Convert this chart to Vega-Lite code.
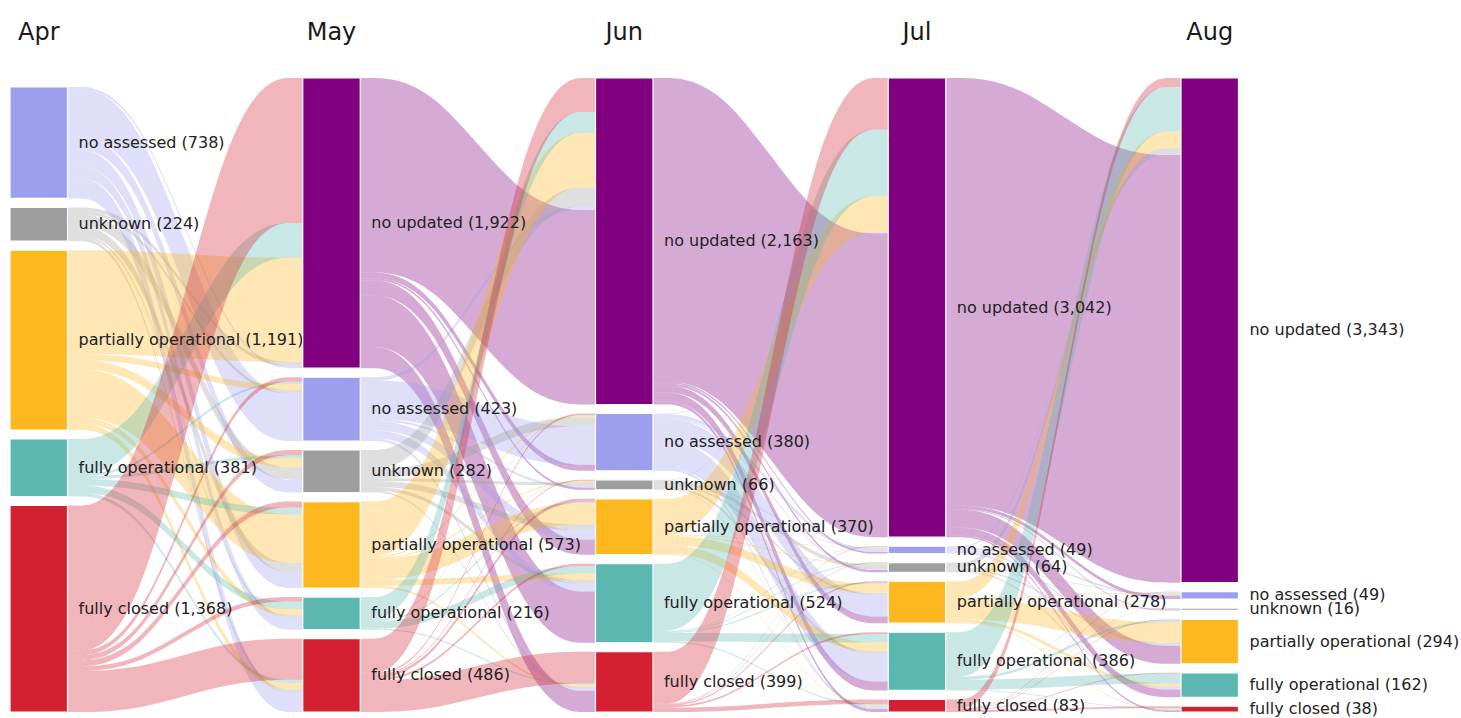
{
  "$schema": "https://vega.github.io/schema/vega-lite/v6.json",
  "width": 1461,
  "height": 718,
  "autosize": {"type": "none"},
  "padding": 0,
  "background": "white",
  "config": {"view": {"stroke": null}},
  "datasets": {
    "months": [{"month": "Apr"}, {"month": "May"}, {"month": "Jun"}, {"month": "Jul"}, {"month": "Aug"}],
    "nodes": [
      {"month": "Apr", "status": "no assessed", "count": 738},
      {"month": "Apr", "status": "unknown", "count": 224},
      {"month": "Apr", "status": "partially operational", "count": 1191},
      {"month": "Apr", "status": "fully operational", "count": 381},
      {"month": "Apr", "status": "fully closed", "count": 1368},
      {"month": "May", "status": "no updated", "count": 1922},
      {"month": "May", "status": "no assessed", "count": 423},
      {"month": "May", "status": "unknown", "count": 282},
      {"month": "May", "status": "partially operational", "count": 573},
      {"month": "May", "status": "fully operational", "count": 216},
      {"month": "May", "status": "fully closed", "count": 486},
      {"month": "Jun", "status": "no updated", "count": 2163},
      {"month": "Jun", "status": "no assessed", "count": 380},
      {"month": "Jun", "status": "unknown", "count": 66},
      {"month": "Jun", "status": "partially operational", "count": 370},
      {"month": "Jun", "status": "fully operational", "count": 524},
      {"month": "Jun", "status": "fully closed", "count": 399},
      {"month": "Jul", "status": "no updated", "count": 3042},
      {"month": "Jul", "status": "no assessed", "count": 49},
      {"month": "Jul", "status": "unknown", "count": 64},
      {"month": "Jul", "status": "partially operational", "count": 278},
      {"month": "Jul", "status": "fully operational", "count": 386},
      {"month": "Jul", "status": "fully closed", "count": 83},
      {"month": "Aug", "status": "no updated", "count": 3343},
      {"month": "Aug", "status": "no assessed", "count": 49},
      {"month": "Aug", "status": "unknown", "count": 16},
      {"month": "Aug", "status": "partially operational", "count": 294},
      {"month": "Aug", "status": "fully operational", "count": 162},
      {"month": "Aug", "status": "fully closed", "count": 38}
    ],
    "links": [
      {"month": "Apr", "source": "no assessed", "target": "no updated", "value": 17},
      {"month": "Apr", "source": "no assessed", "target": "no assessed", "value": 316},
      {"month": "Apr", "source": "no assessed", "target": "unknown", "value": 87},
      {"month": "Apr", "source": "no assessed", "target": "partially operational", "value": 108},
      {"month": "Apr", "source": "no assessed", "target": "fully operational", "value": 80},
      {"month": "Apr", "source": "no assessed", "target": "fully closed", "value": 130},
      {"month": "Apr", "source": "unknown", "target": "no updated", "value": 25},
      {"month": "Apr", "source": "unknown", "target": "no assessed", "value": 22},
      {"month": "Apr", "source": "unknown", "target": "unknown", "value": 80},
      {"month": "Apr", "source": "unknown", "target": "partially operational", "value": 60},
      {"month": "Apr", "source": "unknown", "target": "fully operational", "value": 16},
      {"month": "Apr", "source": "unknown", "target": "fully closed", "value": 21},
      {"month": "Apr", "source": "partially operational", "target": "no updated", "value": 690},
      {"month": "Apr", "source": "partially operational", "target": "no assessed", "value": 40},
      {"month": "Apr", "source": "partially operational", "target": "unknown", "value": 60},
      {"month": "Apr", "source": "partially operational", "target": "partially operational", "value": 320},
      {"month": "Apr", "source": "partially operational", "target": "fully operational", "value": 40},
      {"month": "Apr", "source": "partially operational", "target": "fully closed", "value": 41},
      {"month": "Apr", "source": "fully operational", "target": "no updated", "value": 230},
      {"month": "Apr", "source": "fully operational", "target": "no assessed", "value": 15},
      {"month": "Apr", "source": "fully operational", "target": "unknown", "value": 20},
      {"month": "Apr", "source": "fully operational", "target": "partially operational", "value": 45},
      {"month": "Apr", "source": "fully operational", "target": "fully operational", "value": 50},
      {"month": "Apr", "source": "fully operational", "target": "fully closed", "value": 21},
      {"month": "Apr", "source": "fully closed", "target": "no updated", "value": 960},
      {"month": "Apr", "source": "fully closed", "target": "no assessed", "value": 30},
      {"month": "Apr", "source": "fully closed", "target": "unknown", "value": 35},
      {"month": "Apr", "source": "fully closed", "target": "partially operational", "value": 40},
      {"month": "Apr", "source": "fully closed", "target": "fully operational", "value": 30},
      {"month": "Apr", "source": "fully closed", "target": "fully closed", "value": 273},

      {"month": "May", "source": "no updated", "target": "no updated", "value": 1288},
      {"month": "May", "source": "no updated", "target": "no assessed", "value": 40},
      {"month": "May", "source": "no updated", "target": "unknown", "value": 14},
      {"month": "May", "source": "no updated", "target": "partially operational", "value": 100},
      {"month": "May", "source": "no updated", "target": "fully operational", "value": 340},
      {"month": "May", "source": "no updated", "target": "fully closed", "value": 140},
      {"month": "May", "source": "no assessed", "target": "no updated", "value": 23},
      {"month": "May", "source": "no assessed", "target": "no assessed", "value": 255},
      {"month": "May", "source": "no assessed", "target": "unknown", "value": 15},
      {"month": "May", "source": "no assessed", "target": "partially operational", "value": 60},
      {"month": "May", "source": "no assessed", "target": "fully operational", "value": 54},
      {"month": "May", "source": "no assessed", "target": "fully closed", "value": 16},
      {"month": "May", "source": "unknown", "target": "no updated", "value": 127},
      {"month": "May", "source": "unknown", "target": "no assessed", "value": 60},
      {"month": "May", "source": "unknown", "target": "unknown", "value": 20},
      {"month": "May", "source": "unknown", "target": "partially operational", "value": 40},
      {"month": "May", "source": "unknown", "target": "fully operational", "value": 25},
      {"month": "May", "source": "unknown", "target": "fully closed", "value": 10},
      {"month": "May", "source": "partially operational", "target": "no updated", "value": 360},
      {"month": "May", "source": "partially operational", "target": "no assessed", "value": 10},
      {"month": "May", "source": "partially operational", "target": "unknown", "value": 8},
      {"month": "May", "source": "partially operational", "target": "partially operational", "value": 140},
      {"month": "May", "source": "partially operational", "target": "fully operational", "value": 40},
      {"month": "May", "source": "partially operational", "target": "fully closed", "value": 15},
      {"month": "May", "source": "fully operational", "target": "no updated", "value": 140},
      {"month": "May", "source": "fully operational", "target": "no assessed", "value": 5},
      {"month": "May", "source": "fully operational", "target": "unknown", "value": 3},
      {"month": "May", "source": "fully operational", "target": "partially operational", "value": 10},
      {"month": "May", "source": "fully operational", "target": "fully operational", "value": 50},
      {"month": "May", "source": "fully operational", "target": "fully closed", "value": 8},
      {"month": "May", "source": "fully closed", "target": "no updated", "value": 225},
      {"month": "May", "source": "fully closed", "target": "no assessed", "value": 10},
      {"month": "May", "source": "fully closed", "target": "unknown", "value": 6},
      {"month": "May", "source": "fully closed", "target": "partially operational", "value": 20},
      {"month": "May", "source": "fully closed", "target": "fully operational", "value": 15},
      {"month": "May", "source": "fully closed", "target": "fully closed", "value": 210},

      {"month": "Jun", "source": "no updated", "target": "no updated", "value": 2013},
      {"month": "Jun", "source": "no updated", "target": "no assessed", "value": 10},
      {"month": "Jun", "source": "no updated", "target": "unknown", "value": 15},
      {"month": "Jun", "source": "no updated", "target": "partially operational", "value": 45},
      {"month": "Jun", "source": "no updated", "target": "fully operational", "value": 60},
      {"month": "Jun", "source": "no updated", "target": "fully closed", "value": 20},
      {"month": "Jun", "source": "no assessed", "target": "no updated", "value": 5},
      {"month": "Jun", "source": "no assessed", "target": "no assessed", "value": 23},
      {"month": "Jun", "source": "no assessed", "target": "unknown", "value": 9},
      {"month": "Jun", "source": "no assessed", "target": "partially operational", "value": 145},
      {"month": "Jun", "source": "no assessed", "target": "fully operational", "value": 183},
      {"month": "Jun", "source": "no assessed", "target": "fully closed", "value": 15},
      {"month": "Jun", "source": "unknown", "target": "no updated", "value": 2},
      {"month": "Jun", "source": "unknown", "target": "no assessed", "value": 5},
      {"month": "Jun", "source": "unknown", "target": "unknown", "value": 25},
      {"month": "Jun", "source": "unknown", "target": "partially operational", "value": 12},
      {"month": "Jun", "source": "unknown", "target": "fully operational", "value": 17},
      {"month": "Jun", "source": "unknown", "target": "fully closed", "value": 5},
      {"month": "Jun", "source": "partially operational", "target": "no updated", "value": 237},
      {"month": "Jun", "source": "partially operational", "target": "no assessed", "value": 4},
      {"month": "Jun", "source": "partially operational", "target": "unknown", "value": 6},
      {"month": "Jun", "source": "partially operational", "target": "partially operational", "value": 60},
      {"month": "Jun", "source": "partially operational", "target": "fully operational", "value": 58},
      {"month": "Jun", "source": "partially operational", "target": "fully closed", "value": 5},
      {"month": "Jun", "source": "fully operational", "target": "no updated", "value": 442},
      {"month": "Jun", "source": "fully operational", "target": "no assessed", "value": 4},
      {"month": "Jun", "source": "fully operational", "target": "unknown", "value": 6},
      {"month": "Jun", "source": "fully operational", "target": "partially operational", "value": 8},
      {"month": "Jun", "source": "fully operational", "target": "fully operational", "value": 56},
      {"month": "Jun", "source": "fully operational", "target": "fully closed", "value": 8},
      {"month": "Jun", "source": "fully closed", "target": "no updated", "value": 343},
      {"month": "Jun", "source": "fully closed", "target": "no assessed", "value": 3},
      {"month": "Jun", "source": "fully closed", "target": "unknown", "value": 3},
      {"month": "Jun", "source": "fully closed", "target": "partially operational", "value": 8},
      {"month": "Jun", "source": "fully closed", "target": "fully operational", "value": 12},
      {"month": "Jun", "source": "fully closed", "target": "fully closed", "value": 30},

      {"month": "Jul", "source": "no updated", "target": "no updated", "value": 2833},
      {"month": "Jul", "source": "no updated", "target": "no assessed", "value": 22},
      {"month": "Jul", "source": "no updated", "target": "unknown", "value": 5},
      {"month": "Jul", "source": "no updated", "target": "partially operational", "value": 120},
      {"month": "Jul", "source": "no updated", "target": "fully operational", "value": 52},
      {"month": "Jul", "source": "no updated", "target": "fully closed", "value": 10},
      {"month": "Jul", "source": "no assessed", "target": "no updated", "value": 10},
      {"month": "Jul", "source": "no assessed", "target": "no assessed", "value": 12},
      {"month": "Jul", "source": "no assessed", "target": "unknown", "value": 2},
      {"month": "Jul", "source": "no assessed", "target": "partially operational", "value": 10},
      {"month": "Jul", "source": "no assessed", "target": "fully operational", "value": 11},
      {"month": "Jul", "source": "no assessed", "target": "fully closed", "value": 4},
      {"month": "Jul", "source": "unknown", "target": "no updated", "value": 35},
      {"month": "Jul", "source": "unknown", "target": "no assessed", "value": 5},
      {"month": "Jul", "source": "unknown", "target": "unknown", "value": 4},
      {"month": "Jul", "source": "unknown", "target": "partially operational", "value": 10},
      {"month": "Jul", "source": "unknown", "target": "fully operational", "value": 8},
      {"month": "Jul", "source": "unknown", "target": "fully closed", "value": 2},
      {"month": "Jul", "source": "partially operational", "target": "no updated", "value": 110},
      {"month": "Jul", "source": "partially operational", "target": "no assessed", "value": 5},
      {"month": "Jul", "source": "partially operational", "target": "unknown", "value": 3},
      {"month": "Jul", "source": "partially operational", "target": "partially operational", "value": 135},
      {"month": "Jul", "source": "partially operational", "target": "fully operational", "value": 20},
      {"month": "Jul", "source": "partially operational", "target": "fully closed", "value": 5},
      {"month": "Jul", "source": "fully operational", "target": "no updated", "value": 295},
      {"month": "Jul", "source": "fully operational", "target": "no assessed", "value": 3},
      {"month": "Jul", "source": "fully operational", "target": "unknown", "value": 1},
      {"month": "Jul", "source": "fully operational", "target": "partially operational", "value": 16},
      {"month": "Jul", "source": "fully operational", "target": "fully operational", "value": 66},
      {"month": "Jul", "source": "fully operational", "target": "fully closed", "value": 5},
      {"month": "Jul", "source": "fully closed", "target": "no updated", "value": 60},
      {"month": "Jul", "source": "fully closed", "target": "no assessed", "value": 2},
      {"month": "Jul", "source": "fully closed", "target": "unknown", "value": 1},
      {"month": "Jul", "source": "fully closed", "target": "partially operational", "value": 3},
      {"month": "Jul", "source": "fully closed", "target": "fully operational", "value": 5},
      {"month": "Jul", "source": "fully closed", "target": "fully closed", "value": 12}
    ]
  },
  "layer": [
    {
      "data": {"name": "links"},
      "transform": [
        {"calculate": "indexof(['Apr','May','Jun','Jul','Aug'], datum.month)", "as": "step"},
        {"calculate": "indexof(['no updated','no assessed','unknown','partially operational','fully operational','fully closed'], datum.source)", "as": "so"},
        {"calculate": "indexof(['no updated','no assessed','unknown','partially operational','fully operational','fully closed'], datum.target)", "as": "to"},
        {"window": [{"op": "sum", "field": "value", "as": "sCum"}], "groupby": ["step"], "sort": [{"field": "so", "order": "descending"}, {"field": "to", "order": "descending"}]},
        {"window": [{"op": "dense_rank", "as": "sRank"}], "groupby": ["step"], "sort": [{"field": "so", "order": "descending"}]},
        {"window": [{"op": "sum", "field": "value", "as": "tCum"}], "groupby": ["step"], "sort": [{"field": "to", "order": "descending"}, {"field": "so", "order": "ascending"}]},
        {"window": [{"op": "dense_rank", "as": "tRank"}], "groupby": ["step"], "sort": [{"field": "to", "order": "descending"}]},
        {"calculate": "datum.sCum + 59.6 * (datum.sRank - 1)", "as": "sTop"},
        {"calculate": "datum.sTop - datum.value", "as": "sBot"},
        {"calculate": "datum.tCum + 59.6 * (datum.tRank - 1)", "as": "tTop"},
        {"calculate": "datum.tTop - datum.value", "as": "tBot"},
        {"calculate": "datum.month + '|' + datum.source + '|' + datum.target", "as": "lid"},
        {"calculate": "[0, 1, 2, 3]", "as": "pts"},
        {"flatten": ["pts"]},
        {"calculate": "datum.step + 0.1964 + 0.8036 * (datum.pts == 0 ? 0 : datum.pts == 1 ? 0.3 : datum.pts == 2 ? 0.7 : 1)", "as": "xx"},
        {"calculate": "datum.pts < 2 ? datum.sTop : datum.tTop", "as": "yt"},
        {"calculate": "datum.pts < 2 ? datum.sBot : datum.tBot", "as": "yb"}
      ],
      "mark": {"type": "area", "interpolate": "basis", "fillOpacity": 0.33, "strokeWidth": 0},
      "encoding": {
        "x": {"field": "xx", "type": "quantitative", "scale": {"domain": [-0.03416, 4.9565], "nice": false, "zero": false}, "axis": null},
        "y": {"field": "yt", "type": "quantitative", "stack": null, "scale": {"domain": [-39.75, 4716.8], "nice": false, "zero": false}, "axis": null},
        "y2": {"field": "yb"},
        "detail": {"field": "lid"},
        "color": {"field": "source", "type": "nominal", "legend": null,
          "scale": {"domain": ["no updated", "no assessed", "unknown", "partially operational", "fully operational", "fully closed"],
                    "range": ["#800080", "#9e9eee", "#9e9e9e", "#fdb71f", "#5bb8b1", "#d42030"]}}
      }
    },
    {
      "data": {"name": "nodes"},
      "transform": [
        {"calculate": "indexof(['Apr','May','Jun','Jul','Aug'], datum.month)", "as": "idx"},
        {"calculate": "indexof(['no updated','no assessed','unknown','partially operational','fully operational','fully closed'], datum.status)", "as": "o"},
        {"window": [{"op": "sum", "field": "count", "as": "cum"}, {"op": "row_number", "as": "r"}], "groupby": ["idx"], "sort": [{"field": "o", "order": "descending"}]},
        {"calculate": "datum.cum + 59.6 * (datum.r - 1)", "as": "top"},
        {"calculate": "datum.top - datum.count", "as": "bot"},
        {"calculate": "(datum.top + datum.bot) / 2", "as": "ym"},
        {"calculate": "datum.idx", "as": "xl"},
        {"calculate": "datum.idx + 0.1964", "as": "xr"},
        {"calculate": "datum.status + ' (' + format(datum.count, ',') + ')'", "as": "label"}
      ],
      "layer": [
        {
          "mark": {"type": "text", "align": "left", "baseline": "middle", "dx": 11, "fontSize": 16, "font": "DejaVu Sans", "color": "#222222"},
          "encoding": {
            "x": {"field": "xr", "type": "quantitative"},
            "y": {"field": "ym", "type": "quantitative"},
            "text": {"field": "label"}
          }
        },
        {
          "mark": {"type": "rect", "stroke": "white", "strokeWidth": 1.2},
          "encoding": {
            "x": {"field": "xl", "type": "quantitative"},
            "x2": {"field": "xr"},
            "y": {"field": "top", "type": "quantitative"},
            "y2": {"field": "bot"},
            "color": {"field": "status", "type": "nominal", "legend": null}
          }
        }
      ]
    },
    {
      "data": {"name": "months"},
      "transform": [
        {"calculate": "indexof(['Apr','May','Jun','Jul','Aug'], datum.month) + 0.0982", "as": "xc"}
      ],
      "mark": {"type": "text", "align": "center", "baseline": "alphabetic", "fontSize": 24, "font": "DejaVu Sans", "color": "#1a1a1a"},
      "encoding": {
        "x": {"field": "xc", "type": "quantitative"},
        "y": {"datum": 4451.8, "type": "quantitative"},
        "text": {"field": "month"}
      }
    }
  ]
}
